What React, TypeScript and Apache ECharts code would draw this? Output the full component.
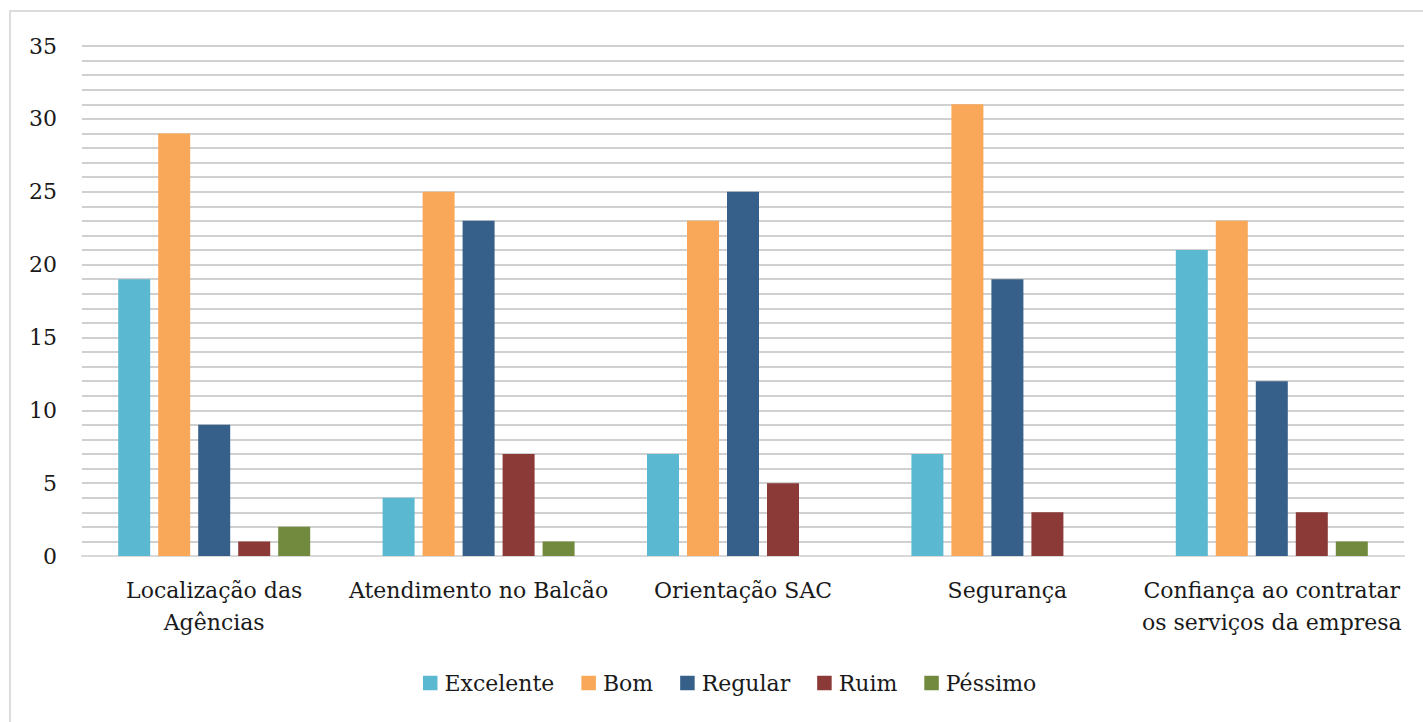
import React, { useEffect, useRef } from "react";
import * as echarts from "echarts";

const categories = [
  "Localização das\nAgências",
  "Atendimento no Balcão",
  "Orientação SAC",
  "Segurança",
  "Confiança ao contratar\nos serviços da empresa",
];

const seriesNames = ["Excelente", "Bom", "Regular", "Ruim", "Péssimo"];

const excelente = [19, 4, 7, 7, 21];
const bom = [29, 25, 23, 31, 23];
const regular = [9, 23, 25, 19, 12];
const ruim = [1, 7, 5, 3, 3];
const pessimo = [2, 1, 0, 0, 1];

const colors = ["#5ab9d1", "#f9a859", "#366089", "#8b3a37", "#728a3d"];

const FONT = "DejaVu Serif";

export default function App() {
  const ref = useRef<HTMLDivElement>(null);

  useEffect(() => {
    if (!ref.current) return;
    const chart = echarts.init(ref.current, null, { renderer: "svg" });
    const values = [excelente, bom, regular, ruim, pessimo];

    chart.setOption({
      animation: false,
      backgroundColor: "#ffffff",
      textStyle: { fontFamily: FONT },
      graphic: [
        {
          type: "rect",
          shape: { x: 10, y: 11, width: 1430, height: 730 },
          style: { fill: "none", stroke: "#dcdcdc", lineWidth: 2 },
          silent: true,
        },
      ],
      grid: { left: 82, right: 19, top: 46, bottom: 166, containLabel: false },
      legend: {
        data: seriesNames,
        left: 418,
        top: 667,
        icon: "rect",
        itemWidth: 14.5,
        itemHeight: 14.5,
        itemGap: 27,
        textStyle: { fontFamily: FONT, fontSize: 22, color: "#1a1a1a", padding: [0, 0, 0, 2] },
      },
      xAxis: {
        type: "category",
        data: categories,
        axisLine: { show: true, lineStyle: { color: "#d9d9d9", width: 2 } },
        axisTick: { show: false },
        axisLabel: {
          interval: 0,
          margin: 18,
          fontFamily: FONT,
          fontSize: 22,
          lineHeight: 32,
          color: "#1a1a1a",
        },
      },
      yAxis: {
        type: "value",
        min: 0,
        max: 35,
        interval: 1,
        axisLine: { show: false },
        axisTick: { show: false },
        axisLabel: {
          margin: 25,
          fontFamily: FONT,
          fontSize: 22,
          color: "#1a1a1a",
          formatter: (v: number) => (v % 5 === 0 ? String(v) : ""),
        },
        splitLine: { show: true, lineStyle: { color: "#c0c0c0", width: 1.5 } },
      },
      series: seriesNames.map((name, i) => ({
        name,
        type: "bar",
        data: values[i],
        barWidth: 32,
        barGap: "25%",
        itemStyle: { color: colors[i] },
      })),
    });

    return () => chart.dispose();
  }, []);

  return (
    <div
      ref={ref}
      style={{ position: "absolute", left: 0, top: 0, width: 1423, height: 722 }}
    />
  );
}
